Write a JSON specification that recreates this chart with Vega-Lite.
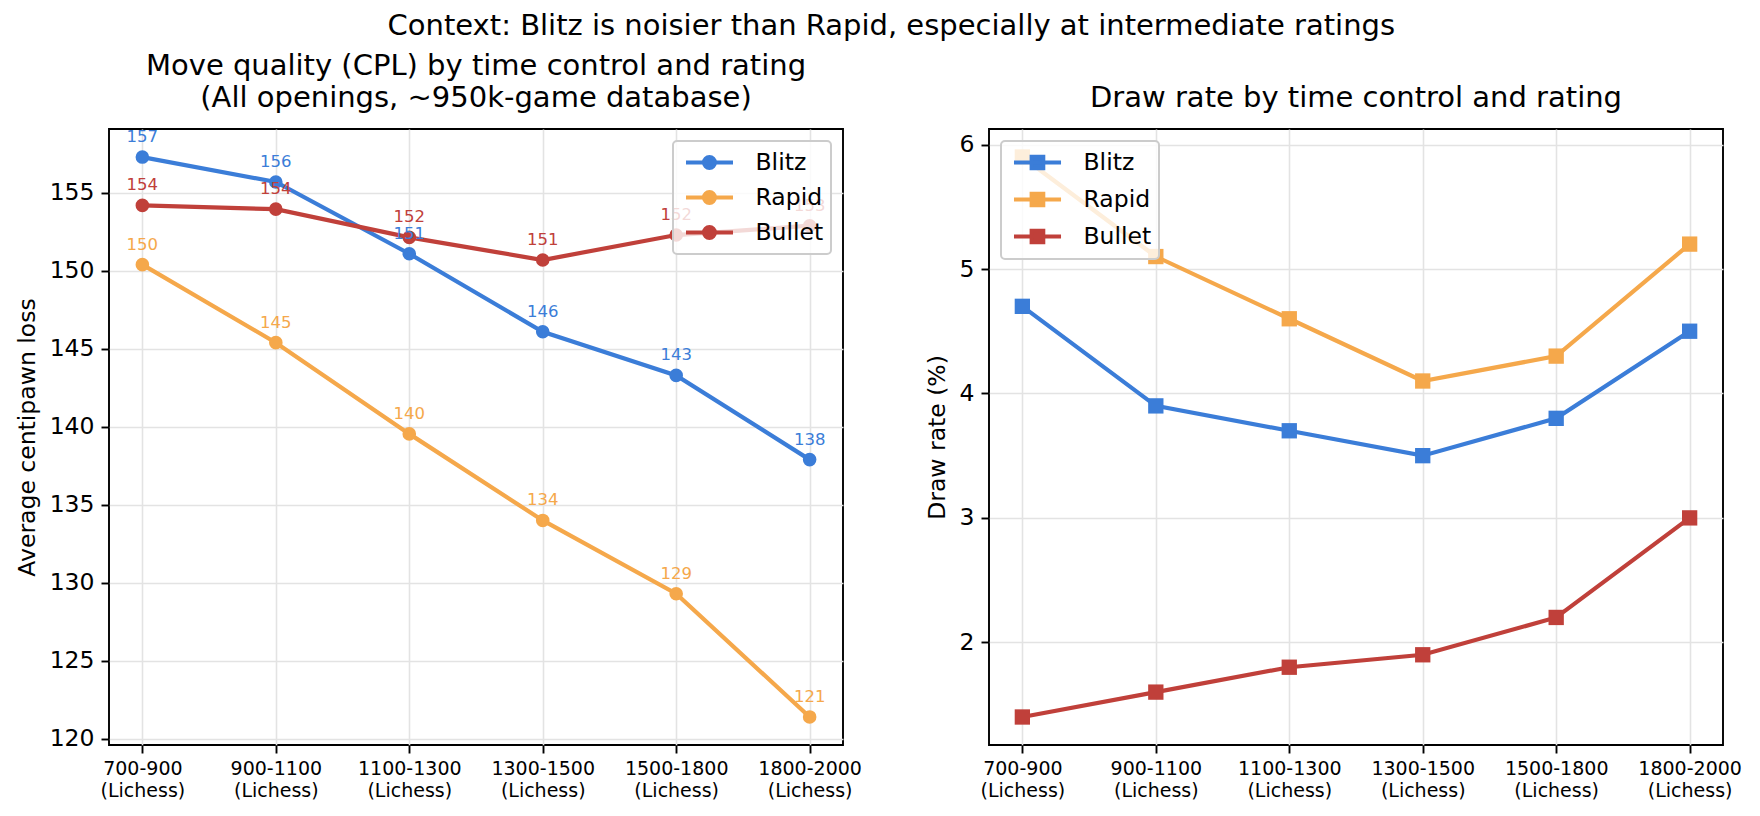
{
  "$schema": "https://vega.github.io/schema/vega-lite/v6.json",
  "background": "white",
  "padding": {"left": 14, "top": 12, "right": 12, "bottom": 6},
  "config": {
    "font": "DejaVu Sans",
    "view": {"stroke": "black", "strokeWidth": 1.9},
    "axis": {
      "domain": false,
      "grid": true,
      "gridColor": "#e3e3e3",
      "gridWidth": 1.6,
      "tickColor": "black",
      "tickSize": 8,
      "tickWidth": 1.9,
      "labelColor": "black",
      "labelFont": "DejaVu Sans",
      "labelFontSize": 23.5,
      "labelPadding": 7,
      "titleFont": "DejaVu Sans",
      "titleFontSize": 23.5,
      "titleFontWeight": "normal",
      "titleColor": "black",
      "titlePadding": 10
    },
    "legend": {
      "fillColor": "rgba(255,255,255,0.8)",
      "strokeColor": "#cccccc",
      "cornerRadius": 4,
      "padding": 7.5,
      "labelFont": "DejaVu Sans",
      "labelFontSize": 23.5,
      "labelColor": "black",
      "symbolSize": 529,
      "symbolStrokeWidth": 4.2,
      "rowPadding": 7,
      "offset": 12,
      "labelOffset": 47
    },
    "title": {"font": "DejaVu Sans", "fontSize": 29, "fontWeight": "normal", "color": "black"}
  },
  "title": {"text": "Context: Blitz is noisier than Rapid, especially at intermediate ratings", "fontSize": 29, "anchor": "middle", "offset": 10, "dx": 13},
  "datasets": {
    "cpl": [
      {"rating": "700-900", "control": "Blitz", "cpl": 157.3},
      {"rating": "900-1100", "control": "Blitz", "cpl": 155.7},
      {"rating": "1100-1300", "control": "Blitz", "cpl": 151.1},
      {"rating": "1300-1500", "control": "Blitz", "cpl": 146.1},
      {"rating": "1500-1800", "control": "Blitz", "cpl": 143.3},
      {"rating": "1800-2000", "control": "Blitz", "cpl": 137.9},
      {"rating": "700-900", "control": "Rapid", "cpl": 150.4},
      {"rating": "900-1100", "control": "Rapid", "cpl": 145.4},
      {"rating": "1100-1300", "control": "Rapid", "cpl": 139.55},
      {"rating": "1300-1500", "control": "Rapid", "cpl": 134.0},
      {"rating": "1500-1800", "control": "Rapid", "cpl": 129.3},
      {"rating": "1800-2000", "control": "Rapid", "cpl": 121.4},
      {"rating": "700-900", "control": "Bullet", "cpl": 154.2},
      {"rating": "900-1100", "control": "Bullet", "cpl": 153.96},
      {"rating": "1100-1300", "control": "Bullet", "cpl": 152.15},
      {"rating": "1300-1500", "control": "Bullet", "cpl": 150.7},
      {"rating": "1500-1800", "control": "Bullet", "cpl": 152.3},
      {"rating": "1800-2000", "control": "Bullet", "cpl": 152.9}
    ],
    "draw": [
      {"rating": "700-900", "control": "Blitz", "draw": 4.7},
      {"rating": "900-1100", "control": "Blitz", "draw": 3.9},
      {"rating": "1100-1300", "control": "Blitz", "draw": 3.7},
      {"rating": "1300-1500", "control": "Blitz", "draw": 3.5},
      {"rating": "1500-1800", "control": "Blitz", "draw": 3.8},
      {"rating": "1800-2000", "control": "Blitz", "draw": 4.5},
      {"rating": "700-900", "control": "Rapid", "draw": 5.9},
      {"rating": "900-1100", "control": "Rapid", "draw": 5.1},
      {"rating": "1100-1300", "control": "Rapid", "draw": 4.6},
      {"rating": "1300-1500", "control": "Rapid", "draw": 4.1},
      {"rating": "1500-1800", "control": "Rapid", "draw": 4.3},
      {"rating": "1800-2000", "control": "Rapid", "draw": 5.2},
      {"rating": "700-900", "control": "Bullet", "draw": 1.4},
      {"rating": "900-1100", "control": "Bullet", "draw": 1.6},
      {"rating": "1100-1300", "control": "Bullet", "draw": 1.8},
      {"rating": "1300-1500", "control": "Bullet", "draw": 1.9},
      {"rating": "1500-1800", "control": "Bullet", "draw": 2.2},
      {"rating": "1800-2000", "control": "Bullet", "draw": 3.0}
    ]
  },
  "bounds": "flush",
  "spacing": 146,
  "resolve": {"scale": {"x": "independent", "y": "independent"}, "legend": {"color": "independent"}},
  "hconcat": [
    {
      "width": 734,
      "height": 616,
      "title": {"text": ["Move quality (CPL) by time control and rating", "(All openings, ~950k-game database)"], "lineHeight": 32, "offset": 16},
      "data": {"name": "cpl"},
      "encoding": {
        "x": {
          "field": "rating", "type": "ordinal",
          "sort": ["700-900", "900-1100", "1100-1300", "1300-1500", "1500-1800", "1800-2000"],
          "scale": {"type": "point", "padding": 0.25},
          "axis": {"title": null, "labelAngle": 0, "labelFontSize": 19, "labelLineHeight": 22, "labelPadding": 6, "labelExpr": "[datum.label, '(Lichess)']"}
        },
        "y": {
          "field": "cpl", "type": "quantitative",
          "scale": {"domain": [119.6, 159.1], "nice": false, "zero": false},
          "axis": {"title": "Average centipawn loss", "values": [120, 125, 130, 135, 140, 145, 150, 155]}
        },
        "color": {
          "field": "control", "type": "nominal",
          "scale": {"domain": ["Blitz", "Rapid", "Bullet"], "range": ["#3b7dd8", "#f5a84b", "#c0403a"]},
          "legend": {
            "title": null,
            "orient": "top-right",
            "symbolType": "M-0.74,0H3.35M0.83,0A0.47,0.47,0,1,1,1.77,0A0.47,0.47,0,1,1,0.83,0Z",
            "encode": {
              "symbols": {"update": {"fill": {"scale": "color", "field": "value"}, "stroke": {"scale": "color", "field": "value"}, "opacity": {"value": 1}, "fillOpacity": {"value": 1}, "strokeOpacity": {"value": 1}}},
              "legend": {"update": {"strokeWidth": {"value": 2}}}
            }
          }
        }
      },
      "layer": [
        {"mark": {"type": "line", "strokeWidth": 4.2}},
        {"mark": {"type": "point", "filled": true, "shape": "circle", "size": 185, "opacity": 1}},
        {"mark": {"type": "text", "fontSize": 16.5, "baseline": "alphabetic", "dy": -15}, "encoding": {"text": {"field": "cpl", "type": "quantitative", "format": ".0f"}}}
      ]
    },
    {
      "width": 734,
      "height": 616,
      "title": {"text": "Draw rate by time control and rating", "offset": 16},
      "data": {"name": "draw"},
      "encoding": {
        "x": {
          "field": "rating", "type": "ordinal",
          "sort": ["700-900", "900-1100", "1100-1300", "1300-1500", "1500-1800", "1800-2000"],
          "scale": {"type": "point", "padding": 0.25},
          "axis": {"title": null, "labelAngle": 0, "labelFontSize": 19, "labelLineHeight": 22, "labelPadding": 6, "labelExpr": "[datum.label, '(Lichess)']"}
        },
        "y": {
          "field": "draw", "type": "quantitative",
          "scale": {"domain": [1.175, 6.125], "nice": false, "zero": false},
          "axis": {"title": "Draw rate (%)", "values": [2, 3, 4, 5, 6]}
        },
        "color": {
          "field": "control", "type": "nominal",
          "scale": {"domain": ["Blitz", "Rapid", "Bullet"], "range": ["#3b7dd8", "#f5a84b", "#c0403a"]},
          "legend": {
            "title": null,
            "orient": "top-left",
            "symbolType": "M-0.74,0H3.35M0.8,-0.5H1.8V0.5H0.8Z",
            "encode": {
              "symbols": {"update": {"fill": {"scale": "color", "field": "value"}, "stroke": {"scale": "color", "field": "value"}, "opacity": {"value": 1}, "fillOpacity": {"value": 1}, "strokeOpacity": {"value": 1}}},
              "legend": {"update": {"strokeWidth": {"value": 2}}}
            }
          }
        }
      },
      "layer": [
        {"mark": {"type": "line", "strokeWidth": 4.2}},
        {"mark": {"type": "point", "filled": true, "shape": "square", "size": 235, "opacity": 1}}
      ]
    }
  ]
}
